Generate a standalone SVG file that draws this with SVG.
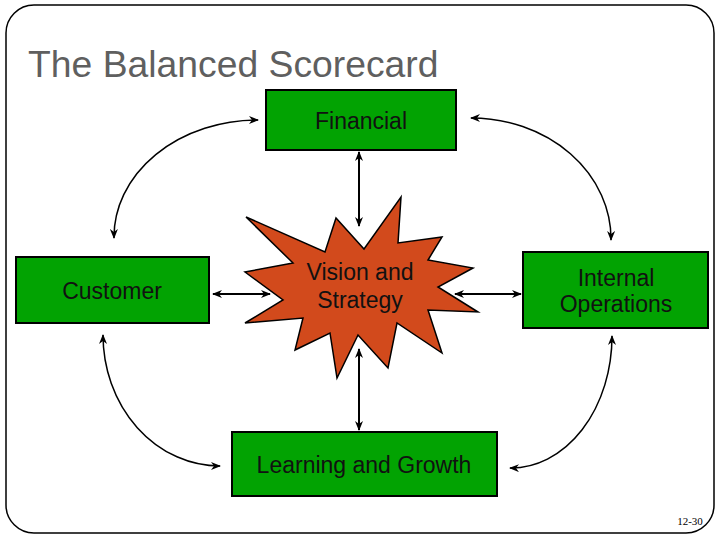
<svg xmlns="http://www.w3.org/2000/svg" width="720" height="540" viewBox="0 0 720 540">
<style>
.box{fill:#02a302;stroke:#000;stroke-width:2}
.lbl{font-family:"Liberation Sans",Arial,sans-serif;font-size:23px;fill:#111;text-anchor:middle}
.str{stroke:#000;stroke-width:2;fill:none}
.crv{stroke:#000;stroke-width:1.5;fill:none}
</style>
<defs>
<marker id="ah" viewBox="0 0 10 8" refX="9" refY="4" markerWidth="10" markerHeight="8" markerUnits="userSpaceOnUse" orient="auto-start-reverse">
<path d="M0,0 L10,4 L0,8 L3,4 z" fill="#000"/>
</marker>
</defs>
<rect x="6" y="5" width="708" height="528" rx="28" ry="28" fill="#fff" stroke="#000" stroke-width="1.5"/>
<text x="28" y="77" font-family="Liberation Sans,Arial,sans-serif" font-size="37.3" fill="#5f5f5f">The Balanced Scorecard</text>
<text x="690" y="525" font-family="Liberation Serif,serif" font-size="11" fill="#000" text-anchor="middle">12-30</text>

<g id="connectors">
<line class="str" x1="359" y1="152" x2="359" y2="226" marker-start="url(#ah)" marker-end="url(#ah)"/>
<line class="str" x1="359" y1="430" x2="359" y2="349" marker-start="url(#ah)" marker-end="url(#ah)"/>
<line class="str" x1="213" y1="294" x2="270" y2="294" marker-start="url(#ah)" marker-end="url(#ah)"/>
<line class="str" x1="455" y1="294" x2="521" y2="294" marker-start="url(#ah)" marker-end="url(#ah)"/>
<path class="crv" d="M258,120 A144,117 0 0 0 114,238" marker-start="url(#ah)" marker-end="url(#ah)"/>
<path class="crv" d="M471,118 A140,121 0 0 1 611,240" marker-start="url(#ah)" marker-end="url(#ah)"/>
<path class="crv" d="M612,336 A101,132 0 0 1 510,468" marker-start="url(#ah)" marker-end="url(#ah)"/>
<path class="crv" d="M103,335 A117,131 0 0 0 220,466" marker-start="url(#ah)" marker-end="url(#ah)"/>
</g>

<g id="financial">
<rect class="box" x="266" y="90" width="190" height="60"/>
<text class="lbl" x="361" y="129">Financial</text>
</g>
<g id="customer">
<rect class="box" x="16" y="257" width="193" height="66"/>
<text class="lbl" x="112" y="299">Customer</text>
</g>
<g id="internal">
<rect class="box" x="523" y="252" width="185" height="76"/>
<text class="lbl" x="616" y="286">Internal</text>
<text class="lbl" x="616" y="312">Operations</text>
</g>
<g id="learning">
<rect class="box" x="232" y="432" width="265" height="64"/>
<text class="lbl" x="364" y="473">Learning and Growth</text>
</g>
<g id="vision">
<polygon fill="#d24a1c" stroke="#000" stroke-width="1.5" points="246,217 325,252 336,218 364,249 401,197 398,243 442,237 428,260 473,268 438,287 478,312 428,310 442,353 397,323 388,368 358,335 337,378 330,333 295,350 303,318 245,323 283,300 245,272 293,263"/>
<text class="lbl" x="360" y="280" font-size="23.5">Vision and</text>
<text class="lbl" x="360" y="308" font-size="23.5">Strategy</text>
</g>
</svg>
